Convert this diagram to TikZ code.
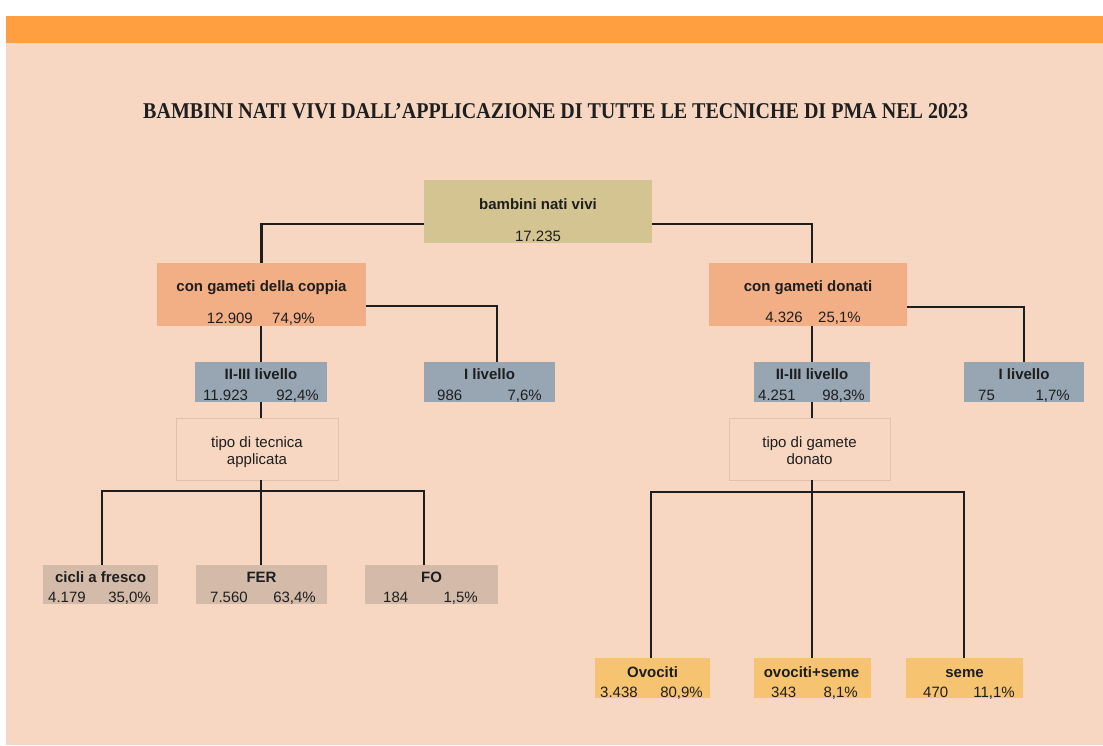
\documentclass[tikz,border=0pt]{standalone}
\usepackage{fontspec}
\setmainfont{Liberation Sans}
\newfontfamily\titlefont{Liberation Serif}
\usepackage{graphicx}
\definecolor{bg}{RGB}{247,215,194}
\definecolor{barorange}{RGB}{255,159,64}
\definecolor{khaki}{RGB}{211,196,145}
\definecolor{salmon}{RGB}{242,174,132}
\definecolor{bluegrey}{RGB}{152,166,180}
\definecolor{tan}{RGB}{212,186,168}
\definecolor{yellowor}{RGB}{246,196,113}
\definecolor{ink}{RGB}{30,30,30}
\definecolor{tipoline}{RGB}{226,192,172}
\begin{document}
\begin{tikzpicture}[x=1pt,y=-1pt,
  box/.style={draw=none, inner sep=0pt, outer sep=0pt},
  tipobox/.style={draw=tipoline, line width=1pt, fill=bg, inner sep=0pt, outer sep=0pt},
  head/.style={anchor=base, inner sep=0pt, text=ink, font=\fontsize{15}{17}\selectfont\bfseries},
  plain/.style={anchor=base, inner sep=0pt, text=ink, font=\fontsize{15}{17}\selectfont},
  numw/.style={anchor=base west, inner sep=0pt, text=ink, font=\fontsize{15}{17}\selectfont},
  nume/.style={anchor=base east, inner sep=0pt, text=ink, font=\fontsize{15}{17}\selectfont},
  conn/.style={draw=ink, line width=2.9pt}]
\useasboundingbox (0,0) rectangle (1103,745);
\fill[white] (0,0) rectangle (1103,745);
\fill[bg] (6,16) rectangle (1103,745);
\fill[barorange] (6,16) rectangle (1103,43);
\node[anchor=base west, inner sep=0pt, text=ink] (title) at (143,118)
  {\resizebox{825pt}{15pt}{\titlefont\bfseries BAMBINI NATI VIVI DALL’APPLICAZIONE DI TUTTE LE TECNICHE DI PMA NEL 2023}};

% boxes
\node[box, fill=khaki, minimum width=228pt, minimum height=63pt] (root) at (538,211.5) {};
\node[box, fill=salmon, minimum width=209pt, minimum height=63pt] (coppia) at (261.5,294.5) {};
\node[box, fill=salmon, minimum width=198pt, minimum height=63pt] (donati) at (808,294.5) {};
\node[box, fill=bluegrey, minimum width=132pt, minimum height=40pt] (iiiL) at (261,382) {};
\node[box, fill=bluegrey, minimum width=131pt, minimum height=40pt] (ilivL) at (489.5,382) {};
\node[box, fill=bluegrey, minimum width=116pt, minimum height=40pt] (iiiR) at (812,382) {};
\node[box, fill=bluegrey, minimum width=120pt, minimum height=40pt] (ilivR) at (1024,382) {};
\node[tipobox, minimum width=162pt, minimum height=62pt] (tipoL) at (257,449) {};
\node[tipobox, minimum width=161pt, minimum height=62pt] (tipoR) at (809.5,449) {};
\node[box, fill=tan, minimum width=115pt, minimum height=39pt] (cicli) at (100.5,584.5) {};
\node[box, fill=tan, minimum width=131pt, minimum height=39pt] (fer) at (261,584.5) {};
\node[box, fill=tan, minimum width=133pt, minimum height=39pt] (fo) at (431.5,584.5) {};
\node[box, fill=yellowor, minimum width=115pt, minimum height=40pt] (ovo) at (652.5,678) {};
\node[box, fill=yellowor, minimum width=117pt, minimum height=40pt] (ovs) at (812,678) {};
\node[box, fill=yellowor, minimum width=117pt, minimum height=40pt] (seme) at (964,678) {};

% connectors
\draw[conn] ([yshift=-12.5pt]root.west) -| (coppia.north);
\draw[conn] ([yshift=-12.5pt]root.east) -| ([xshift=4pt]donati.north);
\draw[conn] ([yshift=-11.5pt]coppia.east) -| ([xshift=7.5pt]ilivL.north);
\draw[conn] (iiiL.north |- coppia.south) -- (iiiL.north);
\draw[conn] ([yshift=-12.5pt]donati.east) -| (ilivR.north);
\draw[conn] (iiiR.north |- donati.south) -- (iiiR.north);
\draw[conn] (iiiL.south) -- (iiiL.south |- tipoL.north);
\draw[conn] (iiiR.south) -- (iiiR.south |- tipoR.north);
\coordinate (busL) at (261,491);
\draw[conn] (iiiL.south |- tipoL.south) -- (busL);
\draw[conn] ([xshift=1.5pt]cicli.north) |- (busL) -| ([xshift=-7.5pt]fo.north);
\draw[conn] (busL) -- (busL |- fer.north);
\coordinate (busR) at (812,492);
\draw[conn] (iiiR.south |- tipoR.south) -- (busR);
\draw[conn] ([xshift=-1.5pt]ovo.north) |- (busR) -| (seme.north);
\draw[conn] (busR) -- (busR |- ovs.north);

% texts
\node[head] (rootT) at (538,209) {bambini nati vivi};
\node[plain] (rootN) at (538,241) {17.235};
\node[head] (coppiaT) at (261.5,291) {con gameti della coppia};
\node[nume] (coppiaN) at (253,323) {12.909};
\node[numw] (coppiaP) at (272,323) {74,9\%};
\node[head] (donatiT) at (808,291) {con gameti donati};
\node[nume] (donatiN) at (803,322) {4.326};
\node[numw] (donatiP) at (818,322) {25,1\%};
\node[head] (iiiLT) at (261,379) {II-III livello};
\node[numw] (iiiLN) at (203,400) {11.923};
\node[nume] (iiiLP) at (319,400) {92,4\%};
\node[head] (ilivLT) at (489.5,379) {I livello};
\node[numw] (ilivLN) at (437,400) {986};
\node[nume] (ilivLP) at (542,400) {7,6\%};
\node[head] (iiiRT) at (812,379) {II-III livello};
\node[numw] (iiiRN) at (758,400) {4.251};
\node[nume] (iiiRP) at (865,400) {98,3\%};
\node[head] (ilivRT) at (1024,379) {I livello};
\node[numw] (ilivRN) at (978,400) {75};
\node[nume] (ilivRP) at (1070,400) {1,7\%};
\node[plain] (tipoLa) at (257,447) {tipo di tecnica};
\node[plain] (tipoLb) at (257,464) {applicata};
\node[plain] (tipoRa) at (809.5,447) {tipo di gamete};
\node[plain] (tipoRb) at (809.5,464) {donato};
\node[head] (cicliT) at (100.5,582) {cicli a fresco};
\node[numw] (cicliN) at (48,602) {4.179};
\node[nume] (cicliP) at (151,602) {35,0\%};
\node[head] (ferT) at (261.5,582) {FER};
\node[numw] (ferN) at (210,602) {7.560};
\node[nume] (ferP) at (316,602) {63,4\%};
\node[head] (foT) at (431.5,582) {FO};
\node[numw] (foN) at (383,602) {184};
\node[nume] (foP) at (478,602) {1,5\%};
\node[head] (ovoT) at (652.5,677) {Ovociti};
\node[numw] (ovoN) at (600,697) {3.438};
\node[nume] (ovoP) at (703,697) {80,9\%};
\node[head] (ovsT) at (811.5,677) {ovociti+seme};
\node[numw] (ovsN) at (771,697) {343};
\node[nume] (ovsP) at (858,697) {8,1\%};
\node[head] (semeT) at (964.5,677) {seme};
\node[numw] (semeN) at (923,697) {470};
\node[nume] (semeP) at (1015,697) {11,1\%};
\end{tikzpicture}
\end{document}
